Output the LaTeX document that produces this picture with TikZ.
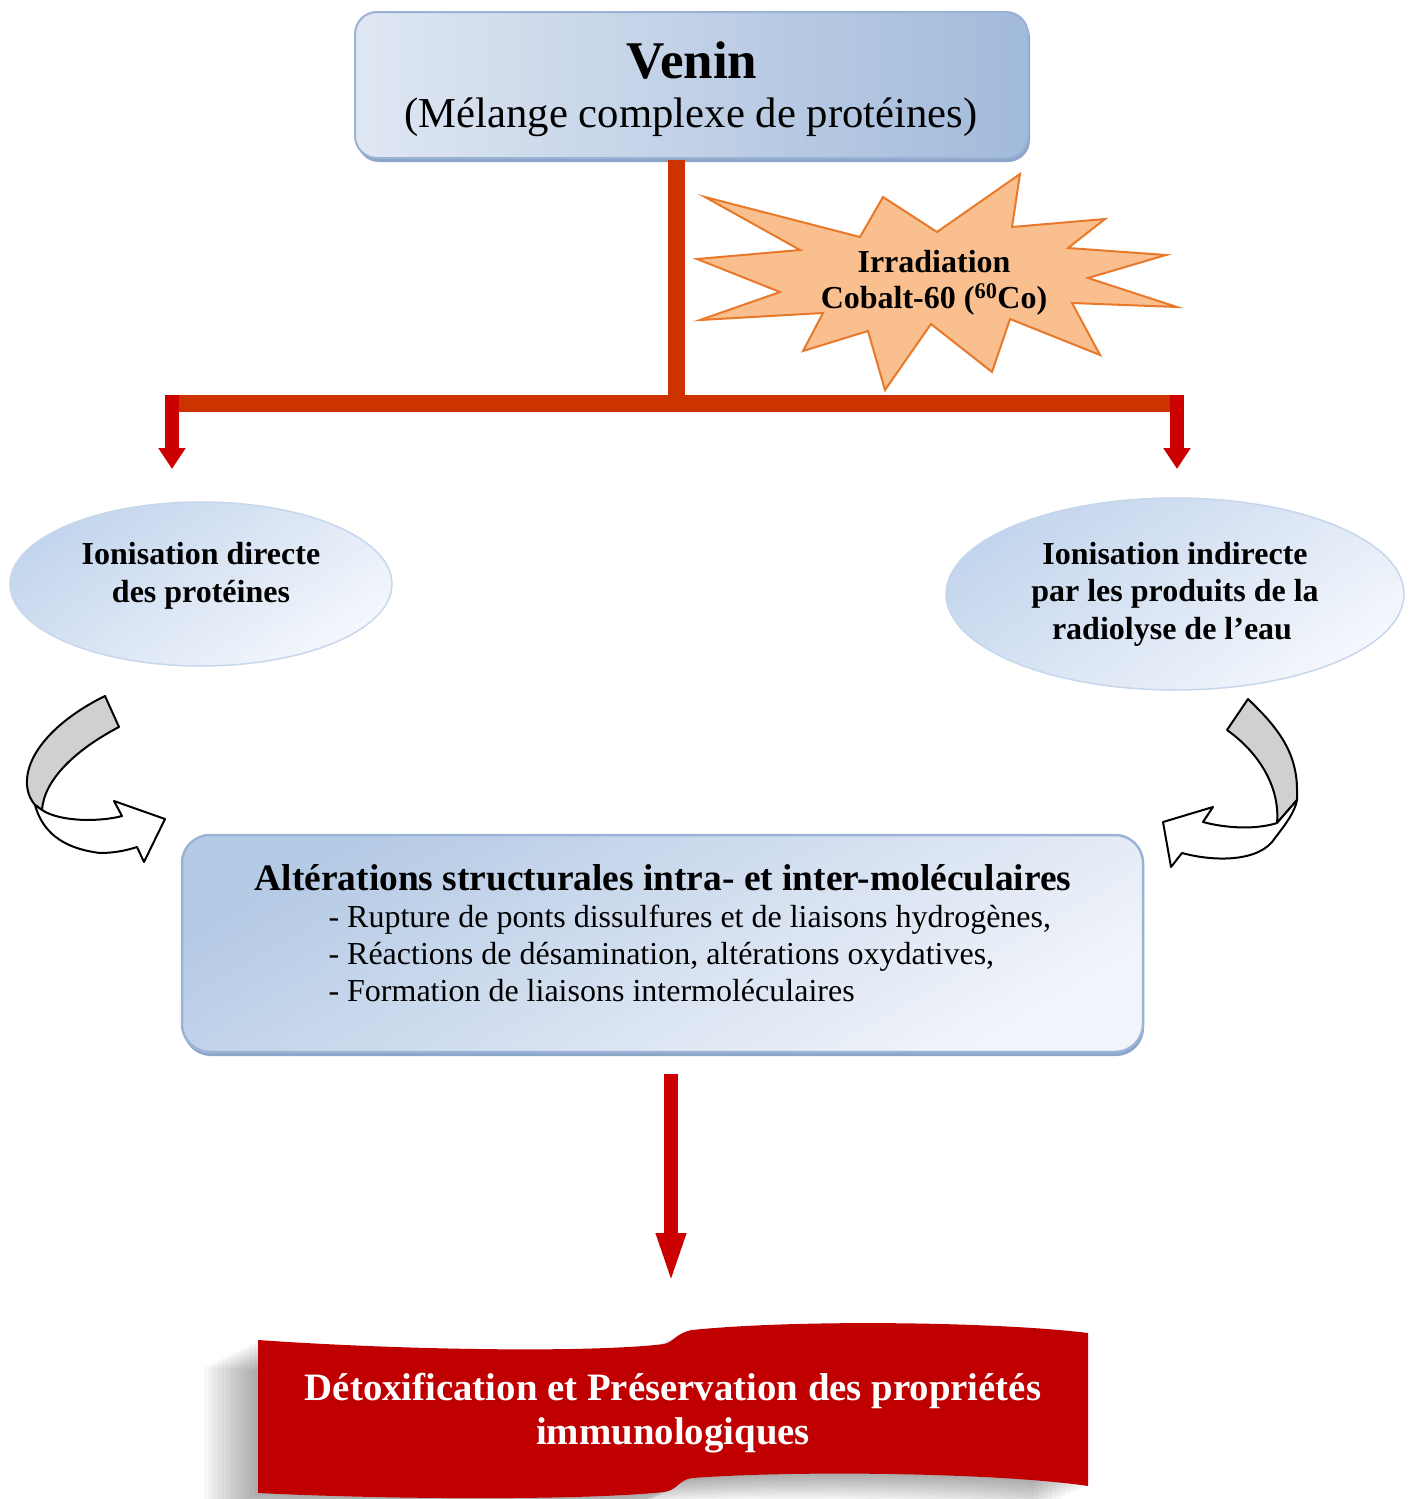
\documentclass[tikz,border=0pt]{standalone}
\usepackage{fontspec}
\setmainfont{Liberation Serif}
\usetikzlibrary{arrows.meta,shapes.geometric,shadows}
\definecolor{barcol}{HTML}{CC3300}
\definecolor{arrred}{HTML}{CC0000}
\definecolor{starfill}{HTML}{F9BF8F}
\definecolor{stardraw}{HTML}{E8782A}
\definecolor{topA}{HTML}{DFE7F2}
\definecolor{topB}{HTML}{A2BADB}
\definecolor{topedge}{HTML}{9AB2D4}
\definecolor{topshadow}{HTML}{8CA6CA}
\definecolor{ellA}{HTML}{C3D5ED}
\definecolor{ellB}{HTML}{F4F7FC}
\definecolor{elledge}{HTML}{C6D7EC}
\definecolor{boxA}{HTML}{B5CAE5}
\definecolor{boxB}{HTML}{F1F4FA}
\definecolor{boxedge}{HTML}{9BB3D5}
\definecolor{bannerred}{HTML}{C00000}
\definecolor{bandgrey}{HTML}{D0D0D0}
\tikzset{
  topbox/.style={rectangle, rounded corners=22pt, draw=topedge, line width=2pt,
    left color=topA, right color=topB, minimum width=673pt, minimum height=146pt,
    drop shadow={shadow xshift=2pt, shadow yshift=-4pt, fill=topshadow, opacity=1}},
  ellbox/.style={ellipse, draw=elledge, line width=1.5pt, inner sep=0pt,
    top color=ellA, bottom color=ellB, shading angle=35},
  mainbox/.style={rectangle, rounded corners=28pt, draw=boxedge, line width=2.5pt,
    top color=boxA, bottom color=boxB, shading angle=30,
    minimum width=961pt, minimum height=217pt,
    drop shadow={shadow xshift=1pt, shadow yshift=-4pt, fill=topshadow, opacity=1}},
  bar/.style={barcol, line width=17pt},
  redarr/.style={arrred, line width=14pt, -{Triangle[width=26pt,length=21pt]}},
  bigarr/.style={arrred, line width=14pt, -{Triangle[width=26pt,length=53pt]}},
  bandshape/.style={draw=black, line width=2pt, line join=round},
  txtA/.style={font=\fontsize{53}{56}\selectfont\bfseries, anchor=base},
  txtB/.style={font=\fontsize{42.7}{48}\selectfont, anchor=base},
  txtE/.style={font=\fontsize{32}{38}\selectfont\bfseries, anchor=base},
  txtT/.style={font=\fontsize{37.4}{40}\selectfont\bfseries, anchor=base},
  txtI/.style={font=\fontsize{32}{37}\selectfont, anchor=base west},
  txtR/.style={font=\fontsize{38.8}{44}\selectfont\bfseries, text=white, anchor=base},
}
\def\bnrpath{(258,1340) .. controls (400,1350) and (590,1353) .. (664,1344)
  .. controls (674,1342) and (676,1333) .. (692,1330)
  .. controls (800,1319) and (1000,1322) .. (1088,1333)
  -- (1088,1486)
  .. controls (1000,1473) and (800,1470) .. (692,1478)
  .. controls (678,1480) and (678,1490) .. (664,1492)
  .. controls (590,1500) and (400,1500) .. (258,1493) -- cycle}
\begin{document}
\begin{tikzpicture}[x=1pt, y=-1pt]
\useasboundingbox (0,0) rectangle (1411,1499);

% top box
\node[topbox] (venin) at (691.5,85) {};
\node[txtA] (veninT) at (692,78) {Venin};
\node[txtB] (veninS) at (691,127) {(Mélange complexe de protéines)};

% bars
\coordinate (vtop) at (676,160);
\coordinate (junc) at (676,403.5);
\coordinate (jl) at (172,403.5);
\coordinate (jr) at (1183,403.5);
\draw[bar] (vtop) -- (junc);
\draw[bar] (jl) -- (jr);

% star
\filldraw[fill=starfill, draw=stardraw, line width=2pt, line join=miter]
 (705,197) -- (860,237) -- (883,197) -- (937,232) -- (1020,174) -- (1012,227)
 -- (1105,219) -- (1068,248) -- (1166,255) -- (1088,278) -- (1177,307)
 -- (1072,303) -- (1100,355) -- (1010,319) -- (992,372) -- (931,324)
 -- (885,390) -- (868,331) -- (803,351) -- (823,313) -- (700,320)
 -- (780,292) -- (697,259) -- (800,250) -- cycle;
\node[txtE] (irr1) at (934,272) {Irradiation};
\node[txtE] (irr2) at (934,308) {Cobalt-60 (\textsuperscript{60}Co)};

% ellipses
\node[ellbox, minimum width=382pt, minimum height=164pt] (ellL) at (201,584) {};
\node[ellbox, minimum width=458pt, minimum height=192pt] (ellR) at (1175,594) {};
\node[txtE] (l1) at (201,564) {Ionisation directe};
\node[txtE] (l2) at (201,602) {des protéines};
\node[txtE] (r1) at (1175,564) {Ionisation indirecte};
\node[txtE] (r2) at (1175,601) {par les produits de la};
\node[txtE] (r3) at (1172,639) {radiolyse de l’eau};

% red arrows
\coordinate (al) at (172,395);
\coordinate (ar) at (1177,395);
\coordinate (alend) at (172,469);
\coordinate (arend) at (1177,469);
\draw[redarr] (al) -- (alend);
\draw[redarr] (ar) -- (arend);

% main box
\node[mainbox] (alt) at (662.5,943.5) {};
\node[txtT] (altT) at (663,890) {Altérations structurales intra- et inter-moléculaires};
\node[txtI] (it1) at (325,927) {- Rupture de ponts dissulfures et de liaisons hydrogènes,};
\node[txtI] (it2) at (325,964) {- Réactions de désamination, altérations oxydatives,};
\node[txtI] (it3) at (325,1001) {- Formation de liaisons intermoléculaires};

% left curved arrow
\filldraw[fill=bandgrey, bandshape]
 (105,696) .. controls (60,718) and (25,752) .. (27,785)
 .. controls (28,795) and (31,800) .. (35,805) -- (42,810)
 .. controls (44,780) and (75,750) .. (119,727) -- cycle;
\filldraw[fill=white, bandshape]
 (35,805) .. controls (42,830) and (60,848) .. (100,853)
 .. controls (115,853) and (128,850) .. (137,847)
 -- (144,862) -- (165,819) -- (114,801) -- (122,816)
 .. controls (100,822) and (60,822) .. (42,810) -- cycle;

% right curved arrow
\filldraw[fill=bandgrey, bandshape]
 (1248,699) .. controls (1275,725) and (1297,750) .. (1297,790)
 -- (1297,800) -- (1277,823)
 .. controls (1280,790) and (1262,755) .. (1227,730) -- cycle;
\filldraw[fill=white, bandshape]
 (1277,823) .. controls (1255,830) and (1225,828) .. (1203,822)
 -- (1213,807) -- (1163,822) -- (1171,867) -- (1182,853)
 .. controls (1215,862) and (1260,862) .. (1275,838)
 .. controls (1285,825) and (1295,812) .. (1297,800) -- cycle;

% bottom arrow
\coordinate (btop) at (671,1074);
\coordinate (bend) at (671,1286);
\draw[bigarr] (btop) -- (bend);

% banner shadow
\foreach \k in {1,...,12} {
  \fill[black, opacity=0.033, shift={(-4.5*\k,2.2*\k)}] \bnrpath;
}
\fill[bannerred] \bnrpath;
\node[txtR] (ban1) at (673,1400) {Détoxification et Préservation des propriétés};
\node[txtR] (ban2) at (673,1444) {immunologiques};
\end{tikzpicture}
\end{document}
